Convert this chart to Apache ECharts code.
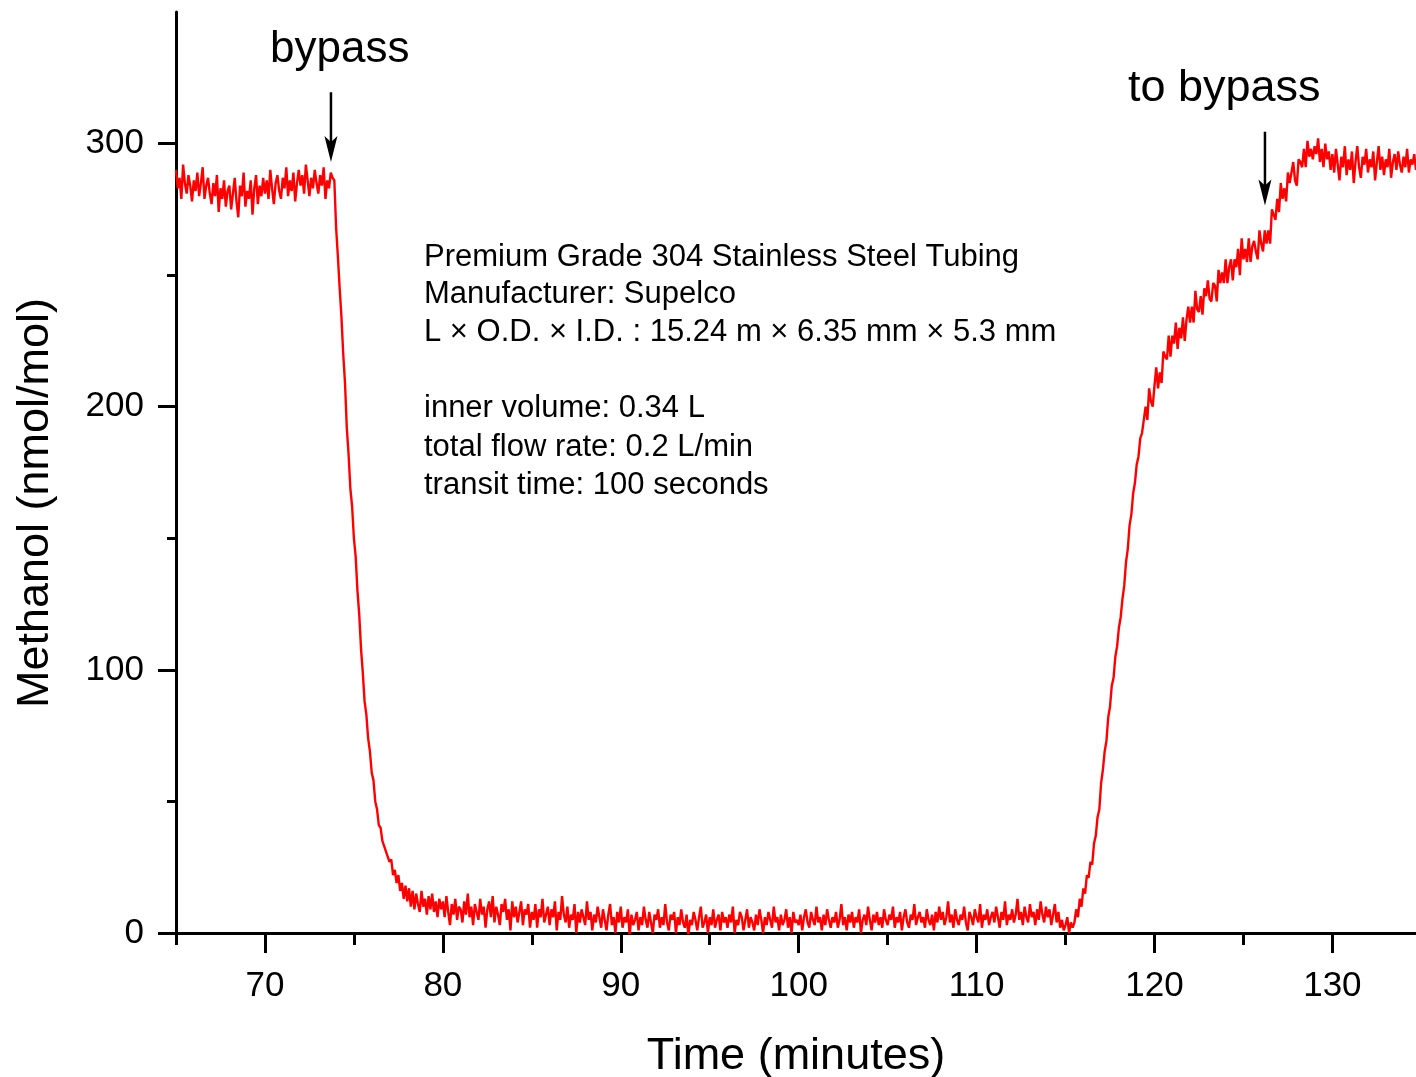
<!DOCTYPE html>
<html>
<head>
<meta charset="utf-8">
<script src="https://cdn.jsdelivr.net/npm/echarts@6/dist/echarts.min.js"></script>
<style>
html,body{margin:0;padding:0;background:#fff;}
#chart{width:1416px;height:1077px;}
</style>
</head>
<body>
<div id="chart"></div>
<script>
// ---- data (Methanol in nmol/mol, sampled every 0.1 minute) ----
const sampleStep = 0.1;
// 65.0 – 73.8 min : before switching to tubing
const beforeStart = 65.0;
const before = [
290,283,287,279,292,285,281,288,284,278,
286,282,289,280,285,291,279,284,287,281,
277,285,280,288,274,283,279,286,276,282,
284,275,281,287,278,272,284,280,289,276,
282,279,286,273,283,288,277,284,280,287,
281,286,279,290,283,277,285,288,282,279,
287,283,291,280,286,282,289,278,285,290,
284,288,281,292,286,280,287,283,290,285,
281,288,284,291,279,286,283,289,287
];
// 73.9 – 79.9 min : fall after "bypass"
const fallStart = 73.9;
const fall = [
286,
268,257,245,234,220,209,192,182,169,162,
150,143,130,121,108,99,88,83,74,69,
61,58,50,47,41,40,35,35,31,31,
27,28,22,24,19,22,16,19,13,18,
12,17,10,16,9,15,11,8,16,10,
13,7,14,9,15,8,12,6,13,9
];
// 80.0 – 115.4 min : low level
const lowStart = 80.0;
const low = [
12,6,14,8,3,11,7,13,5,10,
9,4,12,7,15,6,10,3,11,8,
5,13,7,10,2,9,12,6,14,4,
10,7,3,11,8,13,5,9,1,12,
6,10,4,8,12,3,9,7,11,2,
8,5,11,2,9,6,13,4,7,10,
3,9,6,12,1,8,5,14,7,4,
10,2,7,5,11,0,8,4,9,6,
3,12,5,8,1,7,4,10,6,2,
9,5,1,7,11,3,6,0,8,4,
10,2,6,4,9,-1,7,3,5,8,
1,6,3,10,5,2,8,4,0,7,
5,9,2,6,3,11,4,1,7,5,
8,0,6,3,9,4,2,7,-1,5,
3,8,5,1,6,10,2,4,7,0,
6,3,9,2,5,7,1,8,4,6,
2,7,4,10,0,5,3,8,6,1,
5,9,2,6,4,1,7,3,9,5,
0,6,3,8,5,2,10,4,6,1,
7,3,5,9,2,6,0,8,4,5,
3,7,1,6,9,4,2,8,5,3,
10,4,6,1,7,3,9,5,2,6,
4,8,2,5,11,3,6,1,7,4,
8,2,6,4,9,0,5,7,3,10,
5,1,7,4,8,3,6,2,9,5,
3,7,5,10,2,6,4,8,1,6,
9,4,2,7,5,11,3,6,8,4,
6,2,9,5,3,7,1,8,4,10,
5,8,3,6,12,4,7,2,9,5,
3,7,5,10,4,1,8,6,3,9,
6,4,11,2,7,5,9,3,6,8,
4,10,6,2,8,5,12,3,7,5,
9,4,7,13,5,8,3,10,6,4,
11,6,8,3,9,5,12,7,4,10,
6,9,3,7,11,4,8,2,5,1,
3,6,0,4,2
];
// 115.5 – 128.9 min : rise, then "to bypass"
const riseStart = 115.5;
const rise = [
4,9,6,13,10,17,15,22,21,27,
26,34,37,44,47,57,62,69,73,82,
86,94,97,105,109,116,120,127,132,141,
146,155,159,167,171,178,181,188,190,195,
200,195,207,202,200,208,215,207,213,209,
221,219,218,227,219,227,224,232,222,230,
226,234,225,233,238,232,238,232,244,237,
236,242,235,245,242,248,241,240,247,246,
240,252,247,251,247,256,247,253,256,248,
256,253,260,250,264,256,260,255,264,255,
261,263,259,256,267,262,259,267,262,267,
262,275,273,271,279,274,285,279,283,278,
289,285,289,293,286,284,294,293,291,298,
291,301,295,298,294
];
// 129.0 – 134.7 min : back on bypass
const afterStart = 129.0;
const after = [
299,296,302,293,298,291,300,294,297,290,
296,289,298,292,286,295,291,299,288,294,
290,297,285,293,299,291,287,295,292,298,
289,294,291,297,286,293,299,290,295,288,
294,291,298,287,293,296,290,297,292,289,
295,291,298,289,294,292,296,290
];

const xTickLabels = [70, 80, 90, 100, 110, 120, 130];
const xMinorTicks = [65, 75, 85, 95, 105, 115, 125];
const yTickLabels = [0, 100, 200, 300];
const yMinorTicks = [50, 150, 250];

const noteLines = [
  'Premium Grade 304 Stainless Steel Tubing',
  'Manufacturer: Supelco',
  'L \u00d7 O.D. \u00d7 I.D. : 15.24 m \u00d7 6.35 mm \u00d7 5.3 mm',
  '',
  'inner volume: 0.34 L',
  'total flow rate: 0.2 L/min',
  'transit time: 100 seconds'
];
// arrows: [time, value] of tail and tip
const arrowBypass = [[73.71, 319.5], [73.71, 293]];
const arrowToBypass = [[126.21, 304.5], [126.21, 276.5]];

// ---- build series ----
function seg(start, vals) {
  return vals.map((v, i) => [+(start + i * sampleStep).toFixed(2), v]);
}
const seriesData = [].concat(
  seg(beforeStart, before),
  seg(fallStart, fall),
  seg(lowStart, low),
  seg(riseStart, rise),
  seg(afterStart, after)
);

const FONT = '"Liberation Sans", Arial, Helvetica, sans-serif';
const chart = echarts.init(document.getElementById('chart'), null, {renderer: 'canvas'});

const noteY = [257, 294, 332, 370, 408, 447, 485];
const textGraphics = [
  {type: 'text', x: 270, y: 50, style: {text: 'bypass', font: '44px ' + FONT, fill: '#000', textVerticalAlign: 'middle'}},
  {type: 'text', x: 1128, y: 89, style: {text: 'to bypass', font: '45px ' + FONT, fill: '#000', textVerticalAlign: 'middle'}},
  {type: 'text', x: 36, y: 503, rotation: Math.PI / 2,
   style: {text: 'Methanol (nmol/mol)', font: '45px ' + FONT, fill: '#000', textAlign: 'center', textVerticalAlign: 'middle'}}
].concat(noteLines.map((t, i) => ({
  type: 'text', x: 424, y: noteY[i],
  style: {text: t, font: '31px ' + FONT, fill: '#000', textVerticalAlign: 'middle'}
})));

const option = {
  animation: false,
  backgroundColor: '#fff',
  grid: {left: 176, right: 0, top: 12, bottom: 144, containLabel: false, outerBoundsMode: 'none'},
  xAxis: [
    {
      type: 'value', min: 65, max: 134.7,
      name: 'Time (minutes)', nameLocation: 'middle', nameGap: 101,
      nameTextStyle: {fontSize: 45, color: '#000', fontFamily: FONT},
      axisLine: {show: true, onZero: false, lineStyle: {color: '#000', width: 3}},
      axisTick: {show: true, inside: false, length: 20, lineStyle: {color: '#000', width: 3}, customValues: xTickLabels},
      axisLabel: {show: true, margin: 36, fontSize: 35, color: '#000', fontFamily: FONT, customValues: xTickLabels},
      splitLine: {show: false}
    },
    {
      type: 'value', min: 65, max: 134.7, position: 'bottom',
      axisLine: {show: false},
      axisTick: {show: true, inside: false, length: 12, lineStyle: {color: '#000', width: 3}, customValues: xMinorTicks},
      axisLabel: {show: false},
      splitLine: {show: false}
    }
  ],
  yAxis: [
    {
      type: 'value', min: 0, max: 350,
      axisLine: {show: true, onZero: false, lineStyle: {color: '#000', width: 3}},
      axisTick: {show: true, inside: false, length: 18, lineStyle: {color: '#000', width: 3}, customValues: yTickLabels},
      axisLabel: {show: true, margin: 32, fontSize: 35, color: '#000', fontFamily: FONT, customValues: yTickLabels},
      splitLine: {show: false}
    },
    {
      type: 'value', min: 0, max: 350, position: 'left',
      axisLine: {show: false},
      axisTick: {show: true, inside: false, length: 9, lineStyle: {color: '#000', width: 3}, customValues: yMinorTicks},
      axisLabel: {show: false},
      splitLine: {show: false}
    }
  ],
  series: [{
    type: 'line',
    xAxisIndex: 0, yAxisIndex: 0,
    data: seriesData,
    showSymbol: false,
    symbol: 'none',
    clip: true,
    lineStyle: {color: '#ff0000', width: 2.4},
    z: 2
  }],
  graphic: textGraphics
};
chart.setOption(option);

function arrowGraphics(arrow) {
  const p0 = chart.convertToPixel({gridIndex: 0}, arrow[0]);
  const p1 = chart.convertToPixel({gridIndex: 0}, arrow[1]);
  const x = p1[0];
  return [
    {type: 'line', shape: {x1: p0[0], y1: p0[1], x2: x, y2: p1[1] - 18}, style: {stroke: '#000', lineWidth: 2.5}},
    {type: 'polygon', shape: {points: [[x, p1[1]], [x - 6.5, p1[1] - 26], [x, p1[1] - 20], [x + 6.5, p1[1] - 26]]}, style: {fill: '#000'}}
  ];
}
chart.setOption({graphic: textGraphics.concat(arrowGraphics(arrowBypass), arrowGraphics(arrowToBypass))});
</script>
</body>
</html>
